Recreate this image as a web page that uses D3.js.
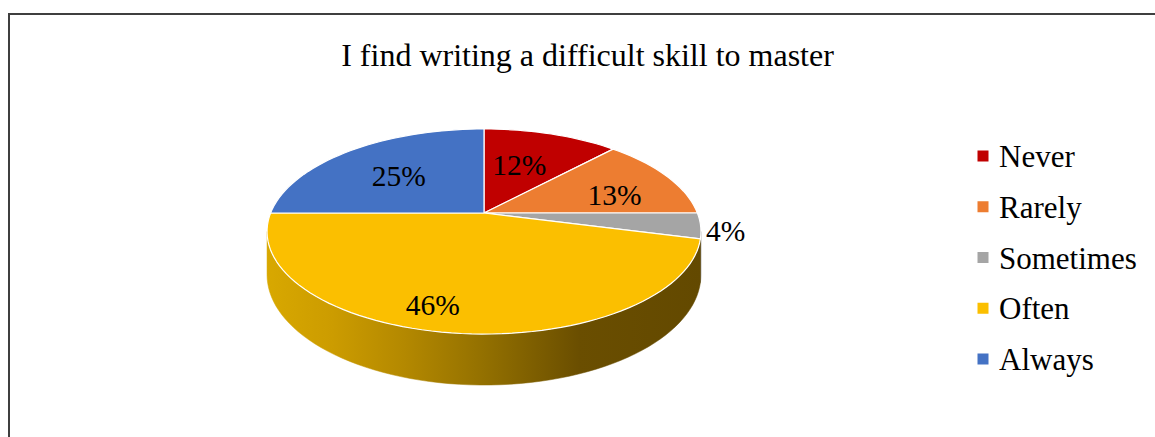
<!DOCTYPE html>
<html><head><meta charset="utf-8">
<script src="https://cdn.jsdelivr.net/npm/d3@7"></script>
<style>html,body{margin:0;padding:0;background:#fff;}svg{display:block;}</style>
</head><body>
<svg id="chart" width="1155" height="437"></svg>
<script>
// ---- data ----
const title = "I find writing a difficult skill to master";
const categories = ["Never", "Rarely", "Sometimes", "Often", "Always"];
const values = [12, 13, 4, 46, 25];
const colors = ["#C00000", "#ED7D31", "#A5A5A5", "#FBBF00", "#4472C4"];
const sideColors = ["#7A0000", "#9A4E1C", "#6A6A6A", null, "#2B4A80"];

// ---- layout ----
const W = 1155, H = 437;
const cx = 484, cy = 213;       // pie vertex on screen
const rxA = 213.4, ryB = 99.2;  // projection scales
const persp = 0.1805;           // perspective factor
const depth = 41.8;             // thickness
// label placement (angle nudge in degrees, radial fraction)
const labelNudge = [-2.7, 6.9, 1.9, 7.3, -1.6];
const labelRadius = [0.56, 0.66, 1.11, 0.82, 0.59];

const svg = d3.select("#chart");
svg.append("rect").attr("x", 9).attr("y", 14).attr("width", 1300).attr("height", 600)
  .attr("fill", "#fff").attr("stroke", "#3f3f3f").attr("stroke-width", 2);

svg.append("text").attr("x", 587.5).attr("y", 66).attr("text-anchor", "middle")
  .attr("font-family", "Liberation Serif, Times New Roman, serif").attr("font-size", 32)
  .attr("fill", "#000").text(title);

// projection of polar point (theta clockwise from 12 o'clock, r fraction) at height level h (0 top, 1 bottom)
function proj(theta, r, h) {
  const u = r * Math.sin(theta), v = -r * Math.cos(theta);
  const w = 1 - persp * v;
  return [cx + rxA * u / w, cy + (ryB * v + h * depth) / w];
}

const pie = d3.pie().sort(null).value(d => d).startAngle(0).endAngle(2 * Math.PI);
const arcs = pie(values);

const defs = svg.append("defs");
const grad = defs.append("linearGradient").attr("id", "sideGrad")
  .attr("gradientUnits", "userSpaceOnUse").attr("x1", 267).attr("x2", 701).attr("y1", 0).attr("y2", 0);
[[0, "#D8A800"], [0.15, "#CC9C00"], [0.32, "#B38800"], [0.5, "#937000"], [0.72, "#6A4E00"], [1, "#634900"]]
  .forEach(([o, c]) => grad.append("stop").attr("offset", o).attr("stop-color", c));

const line = d3.line();
const N = 160;
function arcPts(a0, a1, r, h) {
  const n = Math.max(2, Math.ceil(N * (a1 - a0) / (2 * Math.PI)));
  return d3.range(n + 1).map(i => proj(a0 + (a1 - a0) * i / n, r, h));
}

// visible front side range
const visA = Math.acos(-persp), visB = 2 * Math.PI - Math.acos(-persp);
const g = svg.append("g");
arcs.forEach((a, i) => {
  const s = Math.max(a.startAngle, visA), e = Math.min(a.endAngle, visB);
  if (e <= s) return;
  const pts = arcPts(s, e, 1, 0).concat(arcPts(s, e, 1, 1).reverse());
  g.append("path").attr("d", line(pts) + "Z")
    .attr("fill", sideColors[i] ? sideColors[i] : "url(#sideGrad)")
    .attr("stroke", sideColors[i] ? sideColors[i] : "url(#sideGrad)").attr("stroke-width", 0.5);
});
// top faces
arcs.forEach((a, i) => {
  const pts = [proj(0, 0, 0)].concat(arcPts(a.startAngle, a.endAngle, 1, 0));
  g.append("path").attr("d", line(pts) + "Z")
    .attr("fill", colors[i]).attr("stroke", "#fff").attr("stroke-width", 1.2)
    .attr("stroke-linejoin", "round");
});

// data labels
const lfs = 29.5;
arcs.forEach((a, i) => {
  const mid = (a.startAngle + a.endAngle) / 2 + labelNudge[i] * Math.PI / 180;
  const p = proj(mid, labelRadius[i], 0);
  svg.append("text").attr("x", p[0]).attr("y", p[1] + 0.34 * lfs)
    .attr("text-anchor", "middle")
    .attr("font-family", "Liberation Serif, Times New Roman, serif").attr("font-size", lfs)
    .attr("fill", "#000").text(Math.round(a.value) + "%");
});

// legend
const legY = d3.scalePoint().domain(categories).range([167, 370]);
const leg = svg.append("g");
categories.forEach((c, i) => {
  const y = legY(c);
  leg.append("rect").attr("x", 977.5).attr("y", y - 16.5).attr("width", 11).attr("height", 11)
    .attr("fill", colors[i]);
  leg.append("text").attr("x", 999).attr("y", y)
    .attr("font-family", "Liberation Serif, Times New Roman, serif").attr("font-size", 31)
    .attr("fill", "#000").text(c);
});
</script>
</body></html>
